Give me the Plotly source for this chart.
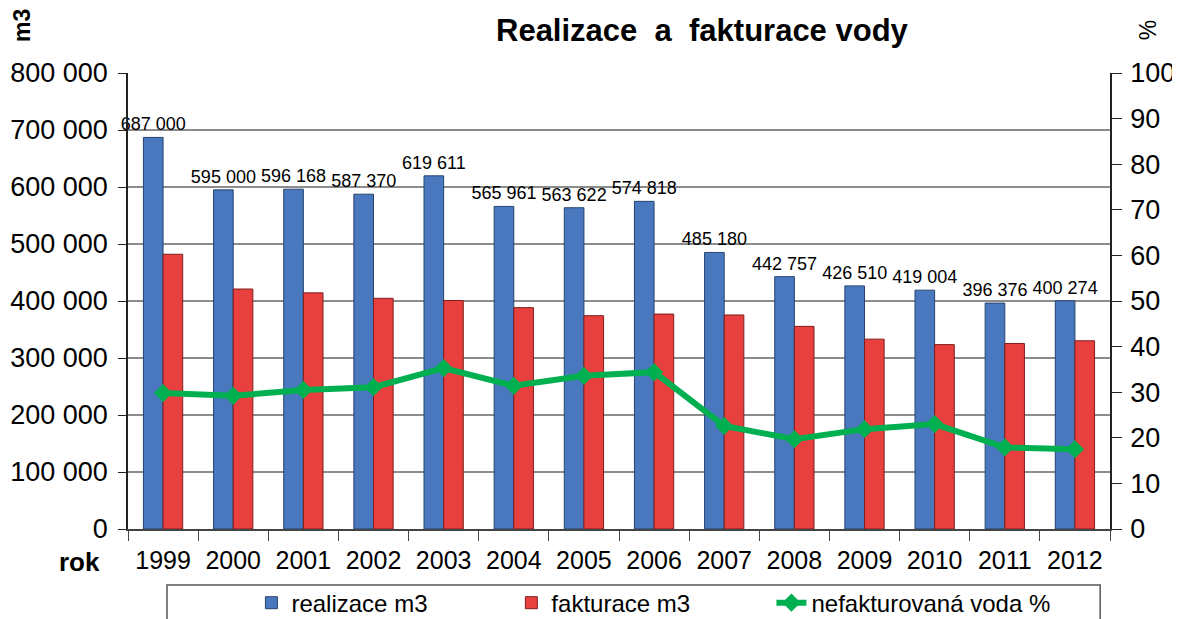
import plotly.graph_objects as go

years = ["1999", "2000", "2001", "2002", "2003", "2004", "2005",
         "2006", "2007", "2008", "2009", "2010", "2011", "2012"]
realizace = [687000, 595000, 596168, 587370, 619611, 565961, 563622,
             574818, 485180, 442757, 426510, 419004, 396376, 400274]
fakturace = [482000, 421000, 414300, 404700, 400900, 388300, 374200,
             377100, 375500, 355500, 333100, 323500, 325500, 330200]
nefakturovana = [29.8, 29.2, 30.5, 31.1, 35.3, 31.4, 33.6,
                 34.4, 22.6, 19.7, 21.9, 23.0, 17.9, 17.5]

FONT = "Liberation Sans, Arial, sans-serif"

# page body has an 8px margin, so the figure is a bit smaller than the window
W, H = 1172, 611

fig = go.Figure()

fig.add_trace(go.Bar(
    x=years, y=realizace, name="realizace m3", legend="legend",
    marker=dict(color="#4A78BE", line=dict(color="#26446F", width=1)),
    texttemplate="%{y:,d}", textposition="outside", constraintext="none",
    textfont=dict(size=18, color="black", family=FONT),
    cliponaxis=False,
))
fig.add_trace(go.Bar(
    x=years, y=fakturace, name="fakturace m3", legend="legend2",
    marker=dict(color="#E8403E", line=dict(color="#7F1D1C", width=1)),
))
fig.add_trace(go.Scatter(
    x=years, y=nefakturovana, name="nefakturovaná voda %", yaxis="y2",
    legend="legend3", mode="lines+markers",
    line=dict(color="#00B050", width=6),
    marker=dict(symbol="diamond", size=14, color="#00B050"),
))

leg = dict(orientation="h", xref="container", yref="container",
           xanchor="left", y=0.026, yanchor="middle",
           font=dict(size=24), bgcolor="rgba(0,0,0,0)")

fig.update_layout(
    width=W, height=H,
    margin=dict(l=120, r=70, t=65, b=90),
    paper_bgcolor="white", plot_bgcolor="white",
    font=dict(family=FONT, size=22, color="black"),
    separators=", ",
    barmode="group", bargap=0.44, bargroupgap=0,
    showlegend=True,
    legend=dict(leg, x=0.2077),
    legend2=dict(leg, x=0.4295),
    legend3=dict(leg, x=0.6514),
    xaxis=dict(
        automargin=False, range=[-0.5, 13.5],
        showline=True, linecolor="#444", linewidth=1.5,
        ticks="outside", tickson="boundaries", ticklen=10, tickcolor="#444",
        ticklabelstandoff=8, tickfont=dict(size=25),
    ),
    yaxis=dict(
        automargin=False,
        range=[0, 800000], dtick=100000, tickformat=",d",
        showgrid=True, gridcolor="#8C8C8C", gridwidth=1.5,
        showline=True, linecolor="#222", linewidth=1.5,
        ticks="outside", ticklen=8, tickcolor="#222",
        ticklabelstandoff=5, zeroline=False, tickfont=dict(size=27),
    ),
    yaxis2=dict(
        automargin=False,
        overlaying="y", side="right", range=[0, 100], dtick=10,
        showgrid=False, showline=True, linecolor="#222", linewidth=1.5,
        ticks="outside", ticklen=10, tickcolor="#222",
        ticklabelstandoff=3, zeroline=False, tickfont=dict(size=27),
    ),
    annotations=[
        dict(text="<b>Realizace  a  fakturace vody</b>", xref="paper", yref="paper",
             x=0.5855, y=1.094, xanchor="center", yanchor="middle",
             showarrow=False, font=dict(size=31)),
        dict(text="<b>m3</b>", xref="paper", yref="paper",
             x=-0.108, y=1.105, xanchor="center", yanchor="middle",
             textangle=-90, showarrow=False, font=dict(size=23)),
        dict(text="%", xref="paper", yref="paper",
             x=1.0387, y=1.094, xanchor="center", yanchor="middle",
             textangle=-90, showarrow=False, font=dict(size=23)),
        dict(text="<b>rok</b>", xref="paper", yref="paper",
             x=-0.049, y=-0.072, xanchor="center", yanchor="middle",
             showarrow=False, font=dict(size=26)),
    ],
    shapes=[
        dict(type="rect", xref="paper", yref="paper",
             x0=0.0397, x1=0.99, y0=-0.1228, y1=-0.25,
             line=dict(color="#555", width=1.5), fillcolor="rgba(0,0,0,0)"),
    ],
)

fig.write_html("out.html")
